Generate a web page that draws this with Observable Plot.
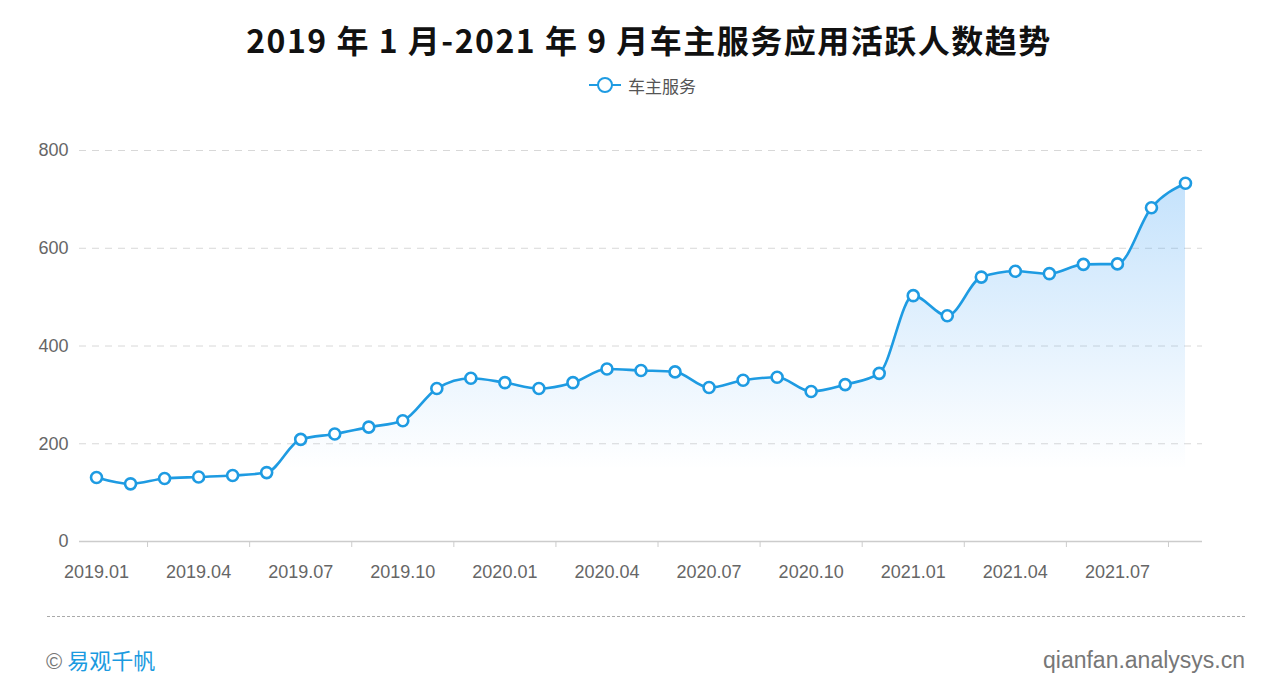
<!DOCTYPE html>
<html>
<head>
<meta charset="utf-8">
<script src="https://cdn.jsdelivr.net/npm/d3@7"></script>
<script src="https://cdn.jsdelivr.net/npm/@observablehq/plot@0.6"></script>
<style>
  html, body { margin:0; padding:0; background:#fff; width:1280px; height:697px; overflow:hidden; }
  body { position:relative; font-family:"Liberation Sans", "Noto Sans CJK SC", sans-serif; }
  #chart { position:absolute; left:0; top:0; }
  #title { position:absolute; left:9px; width:1280px; top:16px; text-align:center; font-family:"Noto Sans CJK SC", sans-serif; font-weight:bold; font-size:32px; letter-spacing:1.5px; color:#111; line-height:46px; white-space:pre; }
  #legend { position:absolute; left:588px; top:72px; height:26px; display:flex; align-items:center; font-family:"Noto Sans CJK SC", sans-serif; font-size:17px; color:#555; }
  #footer-left { position:absolute; left:46px; top:644px; font-family:"Noto Sans CJK SC", sans-serif; font-size:22px; color:#1a9ae0; line-height:30px; }
  #footer-left span.c { color:#777; font-family:"Liberation Sans", sans-serif; }
  #footer-right { position:absolute; right:35px; top:645px; font-family:"Liberation Sans", sans-serif; font-size:23px; color:#777; line-height:30px; }
  #sep { position:absolute; left:47px; width:1198px; top:616px; border-top:1px dashed #aaa; }
</style>
</head>
<body>
<div id="title"></div>
<div id="legend"></div>
<div id="chart"></div>
<div id="sep"></div>
<div id="footer-left"><span class="c">©</span> 易观千帆</div>
<div id="footer-right">qianfan.analysys.cn</div>
<script>
const titleText = "2019 年 1 月-2021 年 9 月车主服务应用活跃人数趋势";
const seriesName = "车主服务";
const months = ["2019.01","2019.02","2019.03","2019.04","2019.05","2019.06","2019.07","2019.08","2019.09","2019.10","2019.11","2019.12",
                "2020.01","2020.02","2020.03","2020.04","2020.05","2020.06","2020.07","2020.08","2020.09","2020.10","2020.11","2020.12",
                "2021.01","2021.02","2021.03","2021.04","2021.05","2021.06","2021.07","2021.08","2021.09"];
const values = [131,118,129,132,135,141,209,220,234,247,313,334,
                325,313,325,353,350,347,315,330,336,307,321,344,
                503,462,541,553,548,567,568,683,733];
const xTickLabels = ["2019.01","2019.04","2019.07","2019.10","2020.01","2020.04","2020.07","2020.10","2021.01","2021.04","2021.07"];
const yTicks = [0,200,400,600,800];

const blue = "#1e9be2";

document.getElementById("title").textContent = titleText;
document.getElementById("legend").innerHTML =
  `<svg width="34" height="20" style="margin-right:6px"><line x1="1" y1="10" x2="33" y2="10" stroke="${blue}" stroke-width="2"/><circle cx="17" cy="10" r="7" fill="#fff" stroke="${blue}" stroke-width="2"/></svg><span>${seriesName}</span>`;

const data = months.map((m, i) => ({i, m, v: values[i]}));
const labelIdx = xTickLabels.map(t => months.indexOf(t));
const boundaryTicks = labelIdx.map(i => i + 1.5);

const chart = Plot.plot({
  width: 1280,
  height: 697,
  marginTop: 150,
  marginBottom: 156,
  marginLeft: 79,
  marginRight: 78,
  style: {background: "transparent", overflow: "visible"},
  x: {type: "linear", domain: [-0.5, months.length - 0.5], axis: null},
  y: {domain: [0, 800], axis: null},
  marks: [
    Plot.gridY(yTicks.filter(d => d > 0), {stroke: "#d8d8d8", strokeOpacity: 1, strokeDasharray: "7,6"}),
    Plot.axisY(yTicks, {label: null, tickSize: 0, tickPadding: 11, fontSize: 18, fill: "#666", fontFamily: "Liberation Sans"}),
    Plot.areaY(data, {x: "i", y: "v", curve: "monotone-x", fill: "url(#areaGrad)"}),
    Plot.ruleY([0], {stroke: "#cccccc", strokeWidth: 1.5}),
    Plot.axisX(boundaryTicks, {label: null, tickSize: 6, tickFormat: () => "", stroke: "#cccccc"}),
    Plot.axisX(labelIdx, {label: null, tickSize: 0, tickPadding: 24, tickFormat: i => months[i], fontSize: 18, fill: "#666", fontFamily: "Liberation Sans"}),
    Plot.lineY(data, {x: "i", y: "v", curve: "monotone-x", stroke: blue, strokeWidth: 2.6}),
    Plot.dot(data, {x: "i", y: "v", r: 5.5, fill: "#fff", stroke: blue, strokeWidth: 2.6})
  ]
});

const defs = d3.select(chart).insert("defs", ":first-child");
const grad = defs.append("linearGradient").attr("id", "areaGrad").attr("x1", 0).attr("y1", 0).attr("x2", 0).attr("y2", 1);
grad.append("stop").attr("offset", "0%").attr("stop-color", "#3ea0f5").attr("stop-opacity", 0.3);
grad.append("stop").attr("offset", "80%").attr("stop-color", "#3ea0f5").attr("stop-opacity", 0);
document.getElementById("chart").appendChild(chart);
</script>
</body>
</html>
